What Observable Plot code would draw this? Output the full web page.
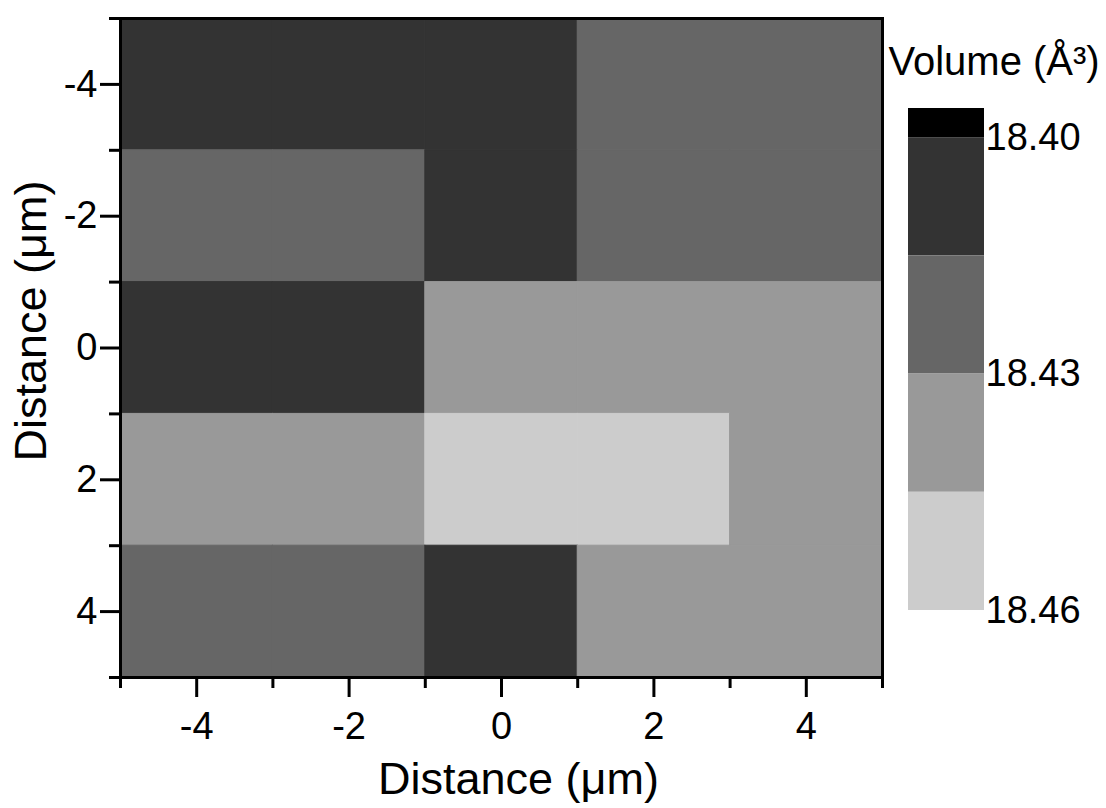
<!DOCTYPE html>
<html>
<head>
<meta charset="utf-8">
<script src="https://cdn.jsdelivr.net/npm/d3@7"></script>
<script src="https://cdn.jsdelivr.net/npm/@observablehq/plot@0.6"></script>
<style>
  html, body { margin: 0; padding: 0; background: white; }
  #wrap { position: relative; width: 1106px; height: 808px; }
  #wrap svg { position: absolute; left: 0; top: 0; }
</style>
</head>
<body>
<div id="wrap"></div>
<script>
// ---- data ----
const xCenters = [-4, -2, 0, 2, 4];
const yCenters = [-4, -2, 0, 2, 4];
const cellSize = 2;
// volume (Å^3) per cell, rows follow yCenters, columns follow xCenters
const volumeRows = [
  [18.408, 18.408, 18.408, 18.422, 18.422],
  [18.422, 18.422, 18.408, 18.422, 18.422],
  [18.408, 18.408, 18.437, 18.437, 18.437],
  [18.437, 18.437, 18.452, 18.452, 18.437],
  [18.422, 18.422, 18.408, 18.437, 18.437]
];
const majorTicks = [-4, -2, 0, 2, 4];
const minorTicks = [-5, -3, -1, 1, 3, 5];
const levelBreaks = [18.40, 18.415, 18.43, 18.445];
const levelColors = ["#000000", "#333333", "#666666", "#999999", "#cccccc"];
const legendBounds = [18.3963, 18.40, 18.415, 18.43, 18.445, 18.46];
const legendTicks = [18.40, 18.43, 18.46];
const axisTitle = "Distance (μm)";
const legendTitle = "Volume (Å³)";

// ---- tables ----
const cells = [];
yCenters.forEach((y, i) => xCenters.forEach((x, j) => {
  cells.push({x1: x - cellSize / 2, x2: x + cellSize / 2, y1: y - cellSize / 2, y2: y + cellSize / 2, v: volumeRows[i][j]});
}));
const legendCells = legendBounds.slice(0, -1).map((b, i) => ({y1: b, y2: legendBounds[i + 1], c: levelColors[i]}));

const font = "'Liberation Sans', Arial, sans-serif";
const none = () => "";
const fmt = d => String(d).replace("−", "-");

const main = Plot.plot({
  width: 1106, height: 808,
  marginLeft: 120, marginRight: 224, marginTop: 18, marginBottom: 131,
  style: {fontFamily: font, fontSize: "38px", background: "white", color: "black"},
  x: {domain: [-5, 5]},
  y: {domain: [-5, 5], reverse: true},
  color: {type: "threshold", domain: levelBreaks, range: levelColors},
  marks: [
    Plot.rect(cells, {x1: "x1", x2: "x2", y1: "y1", y2: "y2", fill: "v", stroke: "v", strokeWidth: 1}),
    Plot.axisX({anchor: "bottom", ticks: majorTicks, tickSize: 20, tickPadding: 15, strokeWidth: 3, fontSize: 38, label: null, tickFormat: fmt}),
    Plot.axisX({anchor: "bottom", ticks: minorTicks, tickSize: 11, strokeWidth: 3, label: null, tickFormat: none}),
    Plot.axisY({anchor: "left", ticks: majorTicks, tickSize: 20, tickPadding: 3, strokeWidth: 3, fontSize: 38, label: null, tickFormat: fmt}),
    Plot.axisY({anchor: "left", ticks: minorTicks, tickSize: 11, strokeWidth: 3, label: null, tickFormat: none}),
    Plot.frame({stroke: "black", strokeWidth: 3}),
    Plot.text([axisTitle], {text: d => d, frameAnchor: "bottom", textAnchor: "middle", lineAnchor: "bottom", dx: 17, dy: 116, fontSize: 45, fill: "black"}),
    Plot.text([axisTitle], {text: d => d, frameAnchor: "left", textAnchor: "middle", lineAnchor: "bottom", rotate: -90, dx: -75, dy: -27, fontSize: 45, fill: "black"})
  ]
});

const legend = Plot.plot({
  width: 1106, height: 808,
  marginLeft: 908, marginRight: 122, marginTop: 108, marginBottom: 198,
  style: {fontFamily: font, fontSize: "38px", background: "transparent", color: "black"},
  x: {domain: [0, 1], axis: null},
  y: {domain: [legendBounds[0], legendBounds[legendBounds.length - 1]], reverse: true},
  marks: [
    Plot.rect(legendCells, {x1: 0, x2: 1, y1: "y1", y2: "y2", fill: "c"}),
    Plot.axisY({anchor: "right", ticks: legendTicks, tickSize: 0, tickPadding: 1, fontSize: 38, label: null, tickFormat: d3.format(".2f")}),
    Plot.text([legendTitle], {text: d => d, frameAnchor: "top-left", textAnchor: "start", lineAnchor: "bottom", dx: -20, dy: -34, fontSize: 40, fill: "black"})
  ]
});

const wrap = document.getElementById("wrap");
wrap.appendChild(main);
wrap.appendChild(legend);
</script>
</body>
</html>
